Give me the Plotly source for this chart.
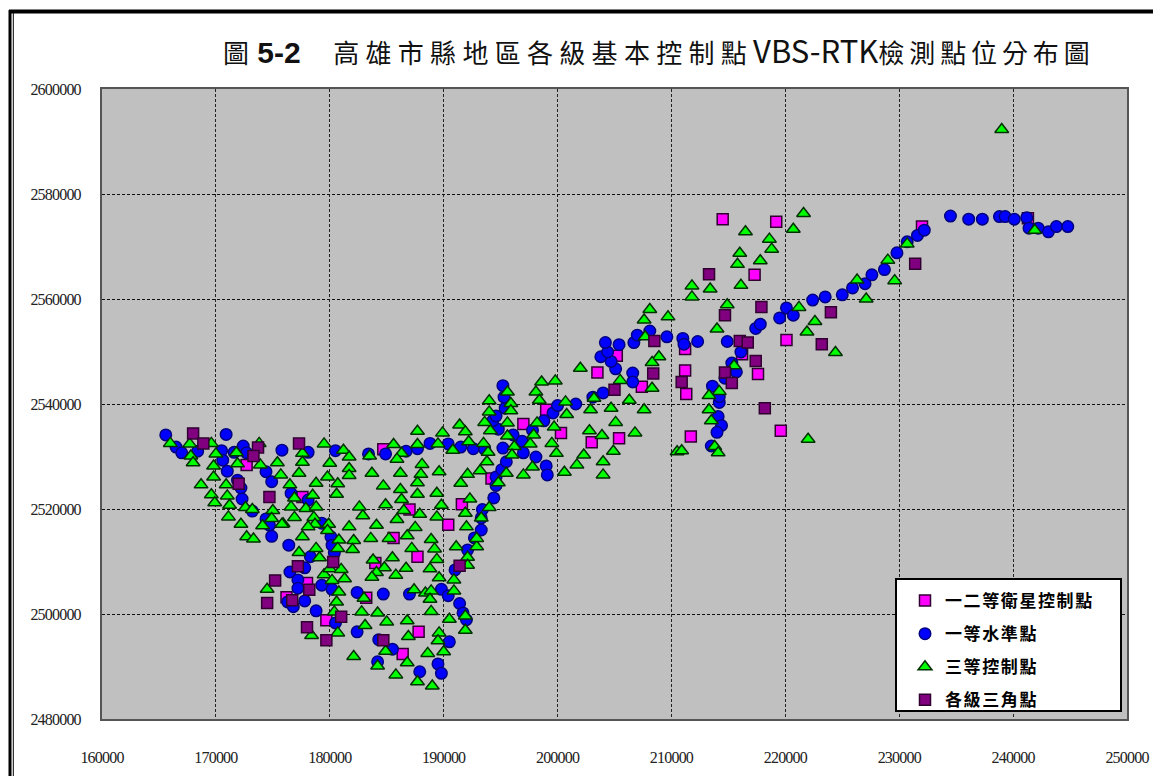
import plotly.graph_objects as go

# axis ticks
x_ticks = [160000, 170000, 180000, 190000, 200000, 210000, 220000, 230000, 240000, 250000]
y_ticks = [2480000, 2500000, 2520000, 2540000, 2560000, 2580000, 2600000]

# series names
name_sat = "一二等衛星控制點"
name_level = "一等水準點"
name_ctrl = "三等控制點"
name_tri = "各級三角點"

# magenta squares
sat_x = [214500, 219200, 217300, 220100, 211200, 211200, 211300, 217600, 219600, 211700, 216200, 232000, 241300,
         205200, 203500, 207400, 199000, 200300, 205400, 203000, 197000, 184700, 194200, 191600, 187000, 177600,
         185600, 190400, 187700, 184000, 183200, 187800, 186400, 179700, 178000, 176200, 172700]
sat_y = [2575200, 2574700, 2564600, 2552200, 2550500, 2546400, 2541900, 2545700, 2534900, 2533800, 2549500, 2573800, 2575400,
         2549200, 2546000, 2543300, 2538900, 2534500, 2533500, 2532700, 2536200, 2531400, 2525800, 2520900, 2519900, 2522300,
         2514500, 2517000, 2510900, 2509700, 2503100, 2496600, 2492400, 2498800, 2505900, 2503200, 2528400]

# blue circles
level_x = [165600, 166500, 167000, 168400, 170900, 170500, 170600, 171000, 171600, 172400, 172700, 171900, 172200, 172300,
           173200, 174400, 174900, 175800, 176600, 178100, 178100, 180500, 183400, 184900, 186700, 187700, 188800, 190400,
           191500, 192600, 193600, 174400, 174700, 174900, 176400, 178300, 179300, 180100, 180400, 180200, 176500, 177800,
           177200, 177200, 177800, 178800, 179300, 180200, 180500, 176300, 176800, 182400, 184700, 187000, 189800, 190400,
           191400, 191700, 192000, 190500, 185500, 184300, 184200, 187900, 189500, 189800, 182400, 193300, 192700, 192100,
           191000, 193300, 193400, 194400, 194600, 194600, 195100, 195500, 195200, 196100, 194800, 194300, 194600, 195400,
           195300, 195200, 196900, 197000, 197800, 198800, 199600, 200000, 201600, 203100, 204000, 198100, 199000, 199100,
           206600, 206600, 205100, 204700, 203800, 204400, 204200, 205400, 206700, 207000, 208100, 209600, 211000, 211100,
           212300, 214900, 213600, 214200, 214200, 214100, 214400, 214000, 213500, 216100, 215300, 215700, 214700, 217400,
           217800, 219500, 220100, 220700, 222400, 223500, 225000, 225900, 227000, 227600, 228700, 229800, 230700, 231600,
           232200, 234500, 236100, 237300, 238800, 239300, 240100, 241200, 241400, 242200, 243100, 243800, 244800]
level_y = [2534100, 2531800, 2530700, 2531000, 2534200, 2531100, 2529300, 2527200, 2530800, 2532000, 2530700, 2525500, 2524000, 2521900,
           2519600, 2527100, 2525200, 2531200, 2523000, 2530800, 2521700, 2531100, 2530500, 2530500, 2531000, 2531500, 2532500, 2532400,
           2531800, 2531500, 2531400, 2518100, 2516900, 2514800, 2513100, 2510900, 2517300, 2514700, 2511600, 2513100, 2508000, 2508800,
           2506500, 2504900, 2502500, 2500600, 2505500, 2504700, 2498300, 2502300, 2501400, 2504100, 2503800, 2503800, 2504700, 2503500,
           2502000, 2500200, 2498900, 2494700, 2493300, 2495100, 2490900, 2489000, 2490500, 2488700, 2496600, 2516000, 2514500, 2512200,
           2508400, 2518300, 2519900, 2522100, 2524500, 2526100, 2527500, 2529000, 2531600, 2534100, 2535200, 2536800, 2537700, 2539200,
           2541300, 2543500, 2532900, 2530700, 2535000, 2536800, 2538300, 2539700, 2540000, 2541300, 2542100, 2529900, 2528200, 2526500,
           2545900, 2544200, 2546700, 2548100, 2549000, 2549900, 2551700, 2551300, 2551700, 2553100, 2553900, 2552800, 2552500, 2551400,
           2551900, 2551900, 2543400, 2540300, 2541400, 2537600, 2535900, 2534600, 2532000, 2549900, 2547800, 2546100, 2544900, 2554400,
           2555200, 2556400, 2558300, 2556900, 2559800, 2560400, 2560800, 2562100, 2562900, 2564600, 2565600, 2568800, 2570900, 2572100,
           2573100, 2575800, 2575200, 2575200, 2575700, 2575700, 2575200, 2575500, 2573500, 2573500, 2572800, 2573800, 2573800]

# green triangles
ctrl_x = [166000, 167700, 167800, 168000, 169600, 170000, 169800, 169800, 168700, 169600, 169900, 170900, 171000, 171200, 171100,
          171800, 171900, 173800, 173900, 175400, 175700, 177300, 176500, 177600, 177600, 179500, 181200, 181700, 180000, 181700,
          181700, 179800, 180700, 178800, 180600, 178500, 176900, 176600, 177900, 178800, 176900, 175900, 178600, 178700, 178100,
          179900, 179800, 181700, 182600, 182900, 184100, 184900, 183700, 184700, 183500, 183600, 182100, 182000, 180800, 180700,
          178800, 177300, 179100, 172600, 173200, 175000, 174900, 172200, 174100, 175800, 172700, 173300, 177600,
          185600, 186300, 185900, 187700, 187700, 188100, 188000, 186200, 187700, 186200, 187700, 186300, 186500, 187900, 185900,
          187500, 186800, 185200, 183800, 185500, 187200, 188900, 189200, 191100, 189400, 186700, 184800, 188800, 189400, 189800,
          189400, 191900, 192000, 192300, 194000, 191500, 192100, 193200, 194800, 195500, 189600, 193800, 193900, 193500, 192200,
          190800, 189500, 189900, 191400, 191900, 194100, 195600, 195600, 196200, 196000, 193600, 193300, 192900, 192900, 192100,
          192100, 184100, 185800, 183700, 189600, 190900, 187400, 188400, 188900, 188800, 190900, 183000, 182800, 184200, 183100,
          185000, 186800, 188900, 190500, 191900, 191900, 189600, 189500, 186900, 188600, 190000, 184900, 186800, 184200, 185800,
          187700, 189000, 174500, 179500, 180000, 181000, 181300, 180200, 180800, 180600, 180400, 180700, 178400, 182100,
          202000, 199800, 198600, 198100, 198400, 200700, 203200, 202900, 200800, 204700, 205500, 208300, 206300, 207600, 205100,
          206800, 203900, 202800, 204900, 202300, 201700, 204000, 204000, 200600, 199900, 199500, 199700, 197900, 198200, 197600,
          197800, 197000, 195900, 195900, 195600, 194000, 194000, 208100, 207600, 209700, 207700, 208900, 208300, 210500,
          221600, 220700, 216500, 218600, 218800, 216000, 215800, 217800, 211800, 213400, 216100, 211800, 214900, 221200, 214000,
          222600, 221900, 224400, 215500, 214200, 213300, 213300, 213500, 210900, 213800, 214100, 222000, 226300, 227100, 229600,
          229000, 230700, 239000, 241900]
ctrl_y = [2532500, 2532400, 2530100, 2528800, 2532500, 2530500, 2528200, 2526100, 2524600, 2522700, 2521200, 2524600, 2522500, 2520700, 2518500,
          2530700, 2528600, 2532500, 2528400, 2528800, 2526500, 2526800, 2524600, 2530600, 2528900, 2532400, 2531200, 2529900, 2528700, 2527700,
          2526400, 2526100, 2524800, 2524900, 2522800, 2522600, 2522100, 2520400, 2520100, 2520400, 2518400, 2517200, 2518400, 2517100, 2516600,
          2517100, 2515900, 2516600, 2520400, 2518700, 2516900, 2520800, 2526800, 2524400, 2530100, 2514400, 2514000, 2512300, 2514100, 2512500,
          2512500, 2511700, 2510700, 2520300, 2519900, 2519700, 2518200, 2517100, 2516800, 2517100, 2514700, 2514300, 2514700,
          2532300, 2530600, 2529500, 2534800, 2532300, 2528500, 2526600, 2526800, 2525000, 2523700, 2522800, 2521800, 2519700, 2519000, 2518000,
          2516500, 2514900, 2514400, 2510300, 2510700, 2512500, 2514200, 2512400, 2512800, 2510400, 2508700, 2508800, 2508600, 2518500, 2520700,
          2523000, 2519200, 2516600, 2521900, 2520300, 2524900, 2526600, 2527300, 2525000, 2526800, 2527100, 2529000, 2530800, 2532500, 2532800,
          2531200, 2532400, 2534500, 2536000, 2534700, 2534900, 2536400, 2533900, 2531900, 2530300, 2536500, 2518300, 2512800, 2514400, 2510800,
          2509300, 2507900, 2507400, 2507000, 2506900, 2506500, 2504600, 2504000, 2504400, 2502800, 2504400, 2503000, 2500400, 2500200, 2497800,
          2498500, 2498700, 2500500, 2499000, 2496900, 2499600, 2496400, 2494900, 2495700, 2492500, 2492800, 2492900, 2490700, 2490100, 2488400,
          2487100, 2486300, 2504700, 2507500, 2508600, 2508500, 2506700, 2506400, 2504200, 2502300, 2500400, 2496400, 2495900, 2491900,
          2546800, 2544400, 2544200, 2542300, 2540700, 2540400, 2541100, 2538900, 2538000, 2539200, 2544500, 2543000, 2540700, 2538900, 2536500,
          2534500, 2534000, 2534900, 2531000, 2530300, 2528400, 2529000, 2526500, 2527000, 2530600, 2532500, 2535600, 2534100, 2536400, 2532400,
          2528000, 2526500, 2540100, 2538700, 2542300, 2540600, 2538500, 2558000, 2556000, 2556600, 2552800, 2549000, 2547900, 2530900,
          2576300, 2573300, 2572800, 2571400, 2569500, 2568700, 2566600, 2567300, 2562500, 2561900, 2562600, 2560400, 2558900, 2558400, 2554300,
          2555700, 2553700, 2549800, 2547300, 2542400, 2541600, 2538900, 2536800, 2531100, 2531900, 2530700, 2533300, 2563600, 2560000, 2563500,
          2567400, 2570500, 2592300, 2573100]

# dark purple squares
tri_x = [213300, 214700, 217900, 224000, 223200, 216000, 216700, 217400, 214700, 215300, 210900, 218200, 231400, 208500, 208400, 205000,
         168000, 168900, 173700, 173300, 177300, 172000, 174700, 177200, 180300, 175200, 174500, 178200, 176700, 181000, 178000, 179700,
         184700, 191400]
tri_y = [2564700, 2556900, 2558500, 2557500, 2551400, 2552000, 2551700, 2548200, 2546000, 2544000, 2544200, 2539200, 2566700, 2552000, 2545800, 2542700,
         2534400, 2532500, 2531700, 2530100, 2532500, 2524800, 2522300, 2509100, 2509900, 2506400, 2502100, 2504600, 2502600, 2499500, 2497500, 2495000,
         2495000, 2509200]

frame_color = "black"
tick_span = "<span style='letter-spacing:-0.8px'>%d</span>"
legend_span = "<span style='letter-spacing:1.6px'>%s</span>"

fig = go.Figure()

fig.add_trace(go.Scatter(x=sat_x, y=sat_y, mode="markers", name=legend_span % name_sat, legendgroup="a",
                         marker=dict(symbol="square", size=11, color="#FF00FF", line=dict(color="#300030", width=1.5))))
fig.add_trace(go.Scatter(x=level_x, y=level_y, mode="markers", name=legend_span % name_level, legendgroup="b",
                         marker=dict(symbol="circle", size=11.5, color="#0000FF", line=dict(color="#000080", width=1.5))))
fig.add_trace(go.Scatter(x=ctrl_x, y=ctrl_y, mode="markers", name=legend_span % name_ctrl, legendgroup="c",
                         marker=dict(symbol="triangle-up", size=12, color="#00FF00", line=dict(color="#003000", width=1.5))))
fig.add_trace(go.Scatter(x=tri_x, y=tri_y, mode="markers", name=legend_span % name_tri, legendgroup="d",
                         marker=dict(symbol="square", size=11, color="#800080", line=dict(color="#300030", width=1.5))))

title_text = ("<span style='font-family:Noto Sans CJK TC'>圖</span>"
              "<b style='font-family:Liberation Sans;font-size:30px'> 5-2</b>"
              "<span style='letter-spacing:5px'>&nbsp;&nbsp;&nbsp;</span>"
              "<span style='letter-spacing:6.3px'>高雄市縣地區各級基本控制點</span>"
              "<span style='font-size:31px'>VBS-RTK</span>"
              "<span style='letter-spacing:4.9px'>檢測點位分布圖</span>")

fig.update_layout(
    width=1153,
    height=776,
    margin=dict(l=102, r=26, t=89, b=57),
    paper_bgcolor="white",
    plot_bgcolor="#C0C0C0",
    font=dict(family="Liberation Serif", color="black"),
    title=dict(text=title_text, x=223 / 1153, xanchor="left", xref="container",
               y=1 - 54 / 776, yanchor="middle", font=dict(family="Noto Sans CJK TC", size=26, color="#111111")),
    showlegend=True,
    legend=dict(x=(905 - 102) / 1025, y=(719 - 583) / 630, xanchor="left", yanchor="top",
                bgcolor="rgba(0,0,0,0)", borderwidth=0,
                font=dict(family="Noto Sans CJK TC", size=17, color="black", weight="bold"),
                tracegroupgap=8, itemsizing="trace"),
    xaxis=dict(range=[160000, 250000], tickvals=x_ticks, ticktext=[tick_span % v for v in x_ticks],
               showgrid=True, gridcolor="#222222", griddash="3px,2px", gridwidth=1, zeroline=False,
               showline=True, linecolor="#555555", linewidth=2, mirror=True, ticks="", automargin=False,
               ticklabelstandoff=23, tickfont=dict(size=16, family="Liberation Serif", color="#222222")),
    yaxis=dict(range=[2480000, 2600000], tickvals=y_ticks, ticktext=[tick_span % v for v in y_ticks],
               showgrid=True, gridcolor="#111111", griddash="3px,2px", gridwidth=1, zeroline=False,
               showline=True, linecolor="#555555", linewidth=2, mirror=True, ticks="", automargin=False,
               ticklabelstandoff=16, tickfont=dict(size=16, family="Liberation Serif", color="#222222")),
)

# outer frame of the page and the legend box
def px_x(v):
    return (v - 102) / 1025

def px_y(v):
    return (719 - v) / 630

fig.add_shape(type="line", xref="paper", yref="paper", x0=px_x(9), x1=px_x(1153), y0=px_y(11.5), y1=px_y(11.5),
              line=dict(color=frame_color, width=4))
fig.add_shape(type="line", xref="paper", yref="paper", x0=px_x(10), x1=px_x(10), y0=px_y(10), y1=px_y(776),
              line=dict(color=frame_color, width=3))
fig.add_shape(type="line", xref="paper", yref="paper", x0=px_x(13.3), x1=px_x(13.3), y0=px_y(12), y1=px_y(776),
              line=dict(color=frame_color, width=1))
fig.add_shape(type="rect", xref="paper", yref="paper", x0=px_x(896), x1=px_x(1121), y0=px_y(579), y1=px_y(711),
              fillcolor="white", line=dict(color="black", width=2))

fig.write_html("out.html", config=dict(displayModeBar=False), post_script="document.body.style.margin='0';")
